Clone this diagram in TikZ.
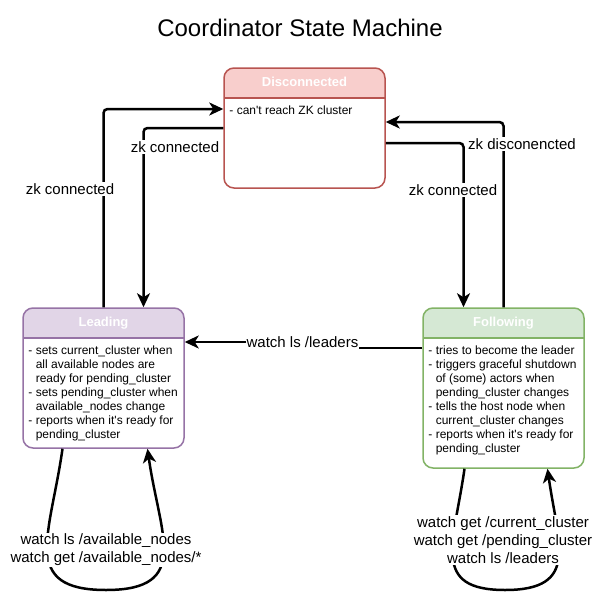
\documentclass[tikz,border=0pt]{standalone}
\usepackage{fontspec}
\setmainfont{Liberation Sans}
\usepackage{tikz}
\usetikzlibrary{positioning, arrows.meta}
\definecolor{discline}{HTML}{B85450}
\definecolor{discfill}{HTML}{F8CECC}
\definecolor{leadline}{HTML}{9673A6}
\definecolor{leadfill}{HTML}{E1D5E7}
\definecolor{followline}{HTML}{82B366}
\definecolor{followfill}{HTML}{D5E8D4}
\newcommand{\nxt}{\hphantom{- }}
\tikzset{%
  statebox/.style n args={3}{%  outline, header colour, height
    rectangle, rounded corners=10pt, draw=#1, fill=white,
    line width=1.5pt, inner sep=0pt,
    minimum width=161pt, minimum height=#3,
    path picture={
      \fill[#2, sharp corners] (path picture bounding box.north west) rectangle
        ([yshift=-30pt]path picture bounding box.north east);
      \draw[#1, sharp corners, line width=1.5pt]
        ([yshift=-30pt]path picture bounding box.north west) --
        ([yshift=-30pt]path picture bounding box.north east);}},
  header/.style={text=white, font=\fontsize{13}{15}\selectfont\bfseries,
    inner sep=0pt, anchor=base},
  body/.style={font=\fontsize{12}{14}\selectfont, align=left,
    inner sep=0pt, anchor=north west},
  lbl/.style={fill=white, font=\fontsize{15}{18}\selectfont,
    align=center, inner sep=1pt},
  plain/.style={draw, line width=2.5pt},
  link/.style={plain, rounded corners=4pt,
    -{Stealth[length=14pt, width=13pt, inset=4pt]}},
  selfloop/.style={plain, looseness=1.5,
    -{Stealth[length=14pt, width=13pt, inset=4pt]}}
}

\begin{document}
\begin{tikzpicture}[x=1pt, y=1pt]
    \useasboundingbox (0,0) rectangle (608,-605);

    \node[font=\fontsize{24}{28}\selectfont] (title) at (300,-28)
      {Coordinator State Machine};

    \node[statebox={discline}{discfill}{120pt}] (disc) at (304.5,-128) {};
    \node[statebox={leadline}{leadfill}{140pt}] (lead) at (103.5,-378) {};
    \node[statebox={followline}{followfill}{160pt}] (follow) at (503.5,-388) {};

    \node[header] (disc head) at ([yshift=-19.5pt]disc.north) {Disconnected};
    \node[header] (lead head) at ([yshift=-19.5pt]lead.north) {Leading};
    \node[header] (follow head) at ([yshift=-19.5pt]follow.north) {Following};

    \node[body] (disc text) at ([xshift=6pt, yshift=-37pt]disc.north west)
      {\strut- can\textquotesingle t reach ZK cluster};
    \node[body] (lead text) at ([xshift=6pt, yshift=-37pt]lead.north west)
      {\strut- sets current\_cluster when\\
       \nxt all available nodes are\\
       \nxt ready for pending\_cluster\\
       - sets pending\_cluster when\\
       \nxt available\_nodes change\\
       - reports when it\textquotesingle s ready for\\
       \nxt pending\_cluster};
    \node[body] (follow text) at ([xshift=6pt, yshift=-37pt]follow.north west)
      {\strut- tries to become the leader\\
       - triggers graceful shutdown\\
       \nxt of (some) actors when\\
       \nxt pending\_cluster changes\\
       - tells the host node when\\
       \nxt current\_cluster changes\\
       - reports when it\textquotesingle s ready for\\
       \nxt pending\_cluster};

    % connectors
    \draw[link] (lead.north) |- ([yshift=19pt]disc.west);
    \draw[link] (disc.west) -| ([xshift=40pt]lead.north);
    \draw[link] ([yshift=-15pt]disc.east) -| ([xshift=-40pt]follow.north);
    \draw[link] (follow.north) |- ([yshift=6pt]disc.east);

    \node[lbl, inner sep=0pt] (leaders) at (302.5,-342) {watch ls /leaders};
    \coordinate (fw) at ([yshift=40pt]follow.west);
    \draw[plain] (fw) -- (fw -| leaders.east);
    \draw[link] (leaders.west) -- ([yshift=36pt]lead.east);

    \coordinate (lead loop) at (106,-590);
    \coordinate (follow loop) at (505,-590);
    \draw[selfloop] ([xshift=-41pt]lead.south) to[out=-98, in=180] (lead loop)
      to[out=0, in=-82] ([xshift=44pt]lead.south);
    \draw[selfloop] ([xshift=-39pt]follow.south) to[out=-98, in=180] (follow loop)
      to[out=0, in=-82] ([xshift=44pt]follow.south);

    % labels
    \node[lbl] (zk up left) at (70,-189) {zk connected};
    \node[lbl] (zk up mid) at (175,-147) {zk connected};
    \node[lbl] (zk up right) at (453,-190) {zk connected};
    \node[lbl] (zk down) at (522,-144) {zk disconencted};
    \node[lbl] (lead watch) at (106,-550)
      {watch ls /available\_nodes\\watch get /available\_nodes/*};
    \node[lbl] (follow watch) at (503,-540)
      {watch get /current\_cluster\\watch get /pending\_cluster\\watch ls /leaders};

\end{tikzpicture}
\end{document}
